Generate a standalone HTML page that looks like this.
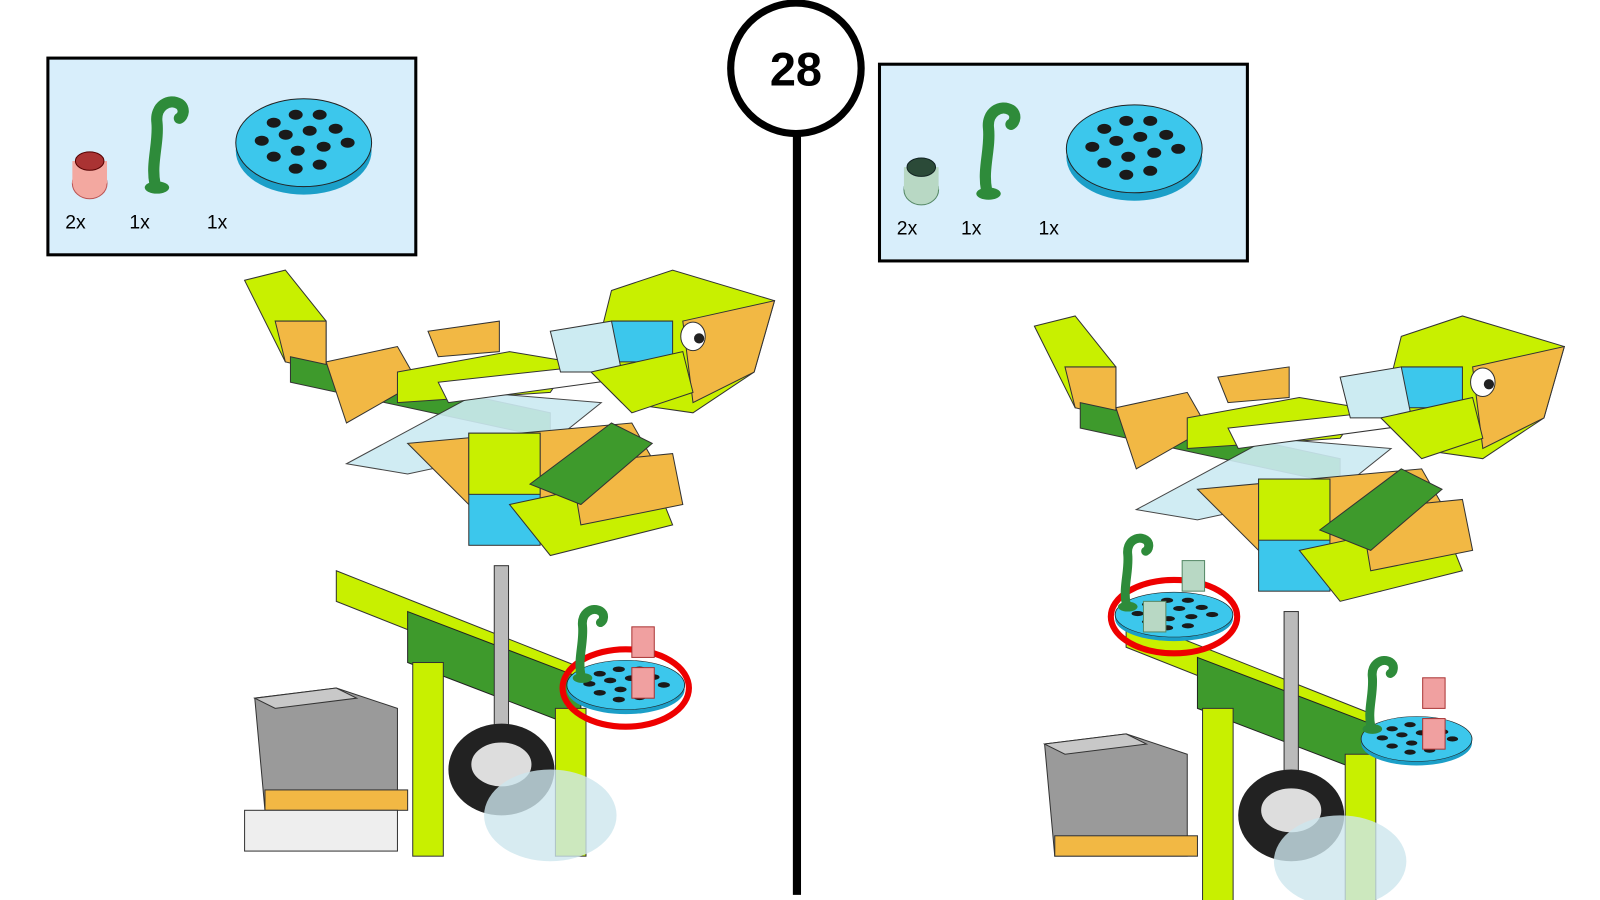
<!DOCTYPE html>
<html><head><meta charset="utf-8"><style>
html,body{margin:0;padding:0;background:#fff;}
body{width:1600px;height:900px;overflow:hidden;position:relative;font-family:"Liberation Sans",sans-serif;}
svg{display:block;}
</style></head><body>
<svg width="1600" height="900" viewBox="0 0 1570 883" preserveAspectRatio="none" xmlns="http://www.w3.org/2000/svg">
<defs>
<g id="plate">
<ellipse cx="0" cy="8" rx="68" ry="44" fill="#1b9fc8"/>
<ellipse cx="0" cy="0" rx="68" ry="44" fill="#3cc7ec" stroke="#222" stroke-width="1"/>
<g fill="#1a1a1a">
<ellipse cx="-30" cy="-20" rx="7" ry="5"/><ellipse cx="-8" cy="-28" rx="7" ry="5"/><ellipse cx="16" cy="-28" rx="7" ry="5"/>
<ellipse cx="-42" cy="-2" rx="7" ry="5"/><ellipse cx="-18" cy="-8" rx="7" ry="5"/><ellipse cx="6" cy="-12" rx="7" ry="5"/><ellipse cx="32" cy="-14" rx="7" ry="5"/>
<ellipse cx="-30" cy="14" rx="7" ry="5"/><ellipse cx="-6" cy="8" rx="7" ry="5"/><ellipse cx="20" cy="4" rx="7" ry="5"/><ellipse cx="44" cy="0" rx="7" ry="5"/>
<ellipse cx="-8" cy="26" rx="7" ry="5"/><ellipse cx="16" cy="22" rx="7" ry="5"/>
</g></g>
<g id="horn">
<path d="M0 40 C-4 20 4 0 2 -20 C0 -36 14 -44 24 -38 C30 -34 28 -26 24 -24" fill="none" stroke="#2e8b3a" stroke-width="11" stroke-linecap="round"/>
<ellipse cx="2" cy="44" rx="12" ry="6" fill="#2e8b3a"/>
</g>
<g id="model">
<path d="M10 430 L90 420 L150 440 L150 540 L20 540 Z" fill="#9a9a9a" stroke="#333"/>
<path d="M10 430 L90 420 L110 430 L30 440 Z" fill="#c8c8c8" stroke="#333"/>
<rect x="20" y="520" width="140" height="20" fill="#f2b844" stroke="#333"/>
<polygon points="90,305 330,400 330,430 90,335" fill="#c8f000" stroke="#333"/>
<polygon points="160,345 330,410 330,460 160,395" fill="#3e9a2c" stroke="#222"/>
<rect x="165" y="395" width="30" height="190" fill="#c8f000" stroke="#333"/>
<rect x="305" y="440" width="30" height="145" fill="#c8f000" stroke="#333"/>
<rect x="245" y="300" width="14" height="160" fill="#bbb" stroke="#333"/>
<ellipse cx="252" cy="500" rx="52" ry="45" fill="#222"/>
<ellipse cx="252" cy="495" rx="30" ry="22" fill="#ddd" stroke="#222"/>
<ellipse cx="300" cy="545" rx="65" ry="45" fill="#cde6ee" opacity="0.8"/>
<polygon points="0,20 40,10 80,60 80,100 40,100" fill="#c8f000" stroke="#333"/>
<polygon points="30,60 80,60 80,110 40,100" fill="#f2b844" stroke="#333"/>
<polygon points="45,95 300,150 300,175 45,120" fill="#3e9a2c" stroke="#333"/>
<polygon points="80,100 150,85 170,120 100,160" fill="#f2b844" stroke="#333"/>
<polygon points="180,70 250,60 250,90 190,95" fill="#f2b844" stroke="#333"/>
<polygon points="150,110 260,90 320,100 300,130 150,140" fill="#c8f000" stroke="#333"/>
<polygon points="100,200 230,130 350,140 300,180 160,210" fill="#ccebf2" stroke="#333" opacity="0.9"/>
<polygon points="190,120 420,95 420,110 200,140" fill="#fff" stroke="#333"/>
<polygon points="160,180 380,160 420,230 340,280 240,260" fill="#f2b844" stroke="#333"/>
<rect x="220" y="170" width="70" height="110" fill="#3cc7ec" stroke="#333"/>
<rect x="220" y="170" width="70" height="60" fill="#c8f000" stroke="#333"/>
<polygon points="260,240 400,210 420,260 300,290" fill="#c8f000" stroke="#333"/>
<polygon points="320,200 420,190 430,240 330,260" fill="#f2b844" stroke="#333"/>
<polygon points="280,220 360,160 400,180 330,240" fill="#3e9a2c" stroke="#333"/>
<polygon points="360,30 420,10 520,40 500,110 440,150 370,140 340,110" fill="#c8f000" stroke="#333"/>
<polygon points="430,60 520,40 500,110 440,140" fill="#f2b844" stroke="#333"/>
<polygon points="360,60 420,60 420,100 360,100" fill="#3cc7ec" stroke="#333"/>
<polygon points="300,70 360,60 370,110 310,110" fill="#ccebf2" stroke="#333"/>
<ellipse cx="440" cy="75" rx="12" ry="14" fill="#fff" stroke="#333"/>
<circle cx="446" cy="77" r="5" fill="#222"/>
<polygon points="340,110 430,90 440,130 380,150" fill="#c8f000" stroke="#333"/>
</g>
</defs>

<line x1="782" y1="120" x2="782" y2="878" stroke="#000" stroke-width="8"/>
<circle cx="781" cy="67" r="64" fill="#fff" stroke="#000" stroke-width="7"/>
<text x="781" y="84" text-anchor="middle" font-family="Liberation Sans,sans-serif" font-weight="bold" font-size="46">28</text>

<rect x="47" y="57" width="361" height="193" fill="#d8eefb" stroke="#000" stroke-width="3"/>
<ellipse cx="88" cy="180" rx="17" ry="15" fill="#f3a8a0" stroke="#b55" />
<rect x="71" y="158" width="34" height="22" fill="#f3a8a0"/>
<ellipse cx="88" cy="158" rx="14" ry="9" fill="#a33" stroke="#500"/>
<use href="#horn" transform="translate(152,140)"/>
<use href="#plate" transform="translate(298,140) scale(0.98)"/>
<text x="64" y="224" font-size="19">2x</text><text x="127" y="224" font-size="19">1x</text><text x="203" y="224" font-size="19">1x</text>

<rect x="863" y="63" width="361" height="193" fill="#d8eefb" stroke="#000" stroke-width="3"/>
<ellipse cx="904" cy="186" rx="17" ry="15" fill="#b8d8c4" stroke="#586"/>
<rect x="887" y="164" width="34" height="22" fill="#b8d8c4"/>
<ellipse cx="904" cy="164" rx="14" ry="9" fill="#2b4a38" stroke="#122"/>
<use href="#horn" transform="translate(968,146)"/>
<use href="#plate" transform="translate(1113,146) scale(0.98)"/>
<text x="880" y="230" font-size="19">2x</text><text x="943" y="230" font-size="19">1x</text><text x="1019" y="230" font-size="19">1x</text>

<g transform="translate(240,255)"><use href="#model"/></g>
<rect x="240" y="795" width="150" height="40" fill="#eee" stroke="#333"/>
<ellipse cx="614" cy="675" rx="62" ry="38" fill="none" stroke="#e00" stroke-width="6"/>
<use href="#plate" transform="translate(614,672) scale(0.85,0.55)"/>
<use href="#horn" transform="translate(570,630) scale(0.8)"/>
<rect x="620" y="615" width="22" height="30" fill="#f0a0a0" stroke="#a33"/>
<rect x="620" y="655" width="22" height="30" fill="#f0a0a0" stroke="#a33"/>

<g transform="translate(1015,300)"><use href="#model"/></g>
<ellipse cx="1152" cy="605" rx="62" ry="36" fill="none" stroke="#e00" stroke-width="6"/>
<use href="#plate" transform="translate(1152,603) scale(0.85,0.5)"/>
<use href="#horn" transform="translate(1105,560) scale(0.8)"/>
<rect x="1160" y="550" width="22" height="30" fill="#b8d8c4" stroke="#586"/>
<rect x="1122" y="590" width="22" height="30" fill="#b8d8c4" stroke="#586"/>
<use href="#plate" transform="translate(1390,725) scale(0.8,0.5)"/>
<use href="#horn" transform="translate(1345,680) scale(0.8)"/>
<rect x="1396" y="665" width="22" height="30" fill="#f0a0a0" stroke="#a33"/>
<rect x="1396" y="705" width="22" height="30" fill="#f0a0a0" stroke="#a33"/>
</svg>
</body></html>
